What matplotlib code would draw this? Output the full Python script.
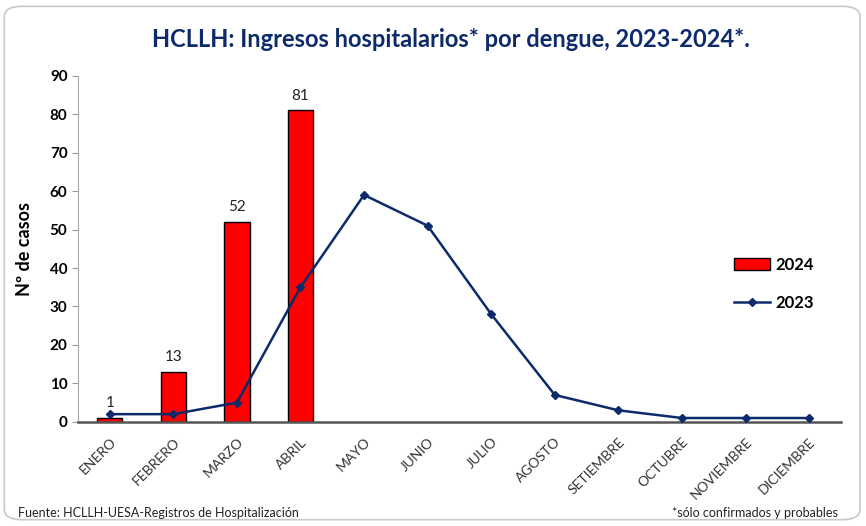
import numpy as np
import matplotlib.pyplot as plt
from matplotlib.patches import FancyBboxPatch

plt.rcParams['font.family'] = ['Lato', 'DejaVu Sans']

# datos
meses = ['ENERO', 'FEBRERO', 'MARZO', 'ABRIL', 'MAYO', 'JUNIO', 'JULIO',
         'AGOSTO', 'SETIEMBRE', 'OCTUBRE', 'NOVIEMBRE', 'DICIEMBRE']
casos_2024 = [1, 13, 52, 81]
casos_2023 = [2, 2, 5, 35, 59, 51, 28, 7, 3, 1, 1, 1]

navy = '#0d2a6b'

fig = plt.figure(figsize=(8.66, 5.26), dpi=100)
ax = fig.add_axes([0.090, 0.198, 0.881, 0.658])

# marco redondeado
fig.patches.append(FancyBboxPatch((0.005, 0.012), 0.988, 0.976,
                                  boxstyle='round,pad=0,rounding_size=0.02',
                                  transform=fig.transFigure, fill=False,
                                  edgecolor='#c8c8c8', linewidth=1.2))

x = np.arange(len(meses))
x24 = np.arange(len(casos_2024))
barras = ax.bar(x24, casos_2024, width=0.4, color='#ff0000', edgecolor='black',
                linewidth=1.0, label='2024', zorder=2)
for xi, v in zip(x24, casos_2024):
    ax.text(xi, v + 2, str(v), ha='center', va='bottom', fontsize=11, color='#222222')

linea, = ax.plot(x, casos_2023, color=navy, linewidth=1.8, marker='D', markersize=4.5,
                 label='2023', zorder=3)

ax.set_xlim(-0.5, len(meses) - 0.5)
ax.set_ylim(0, 90)
ax.set_yticks(range(0, 91, 10))
ax.tick_params(axis='y', labelsize=11, length=4, color='#999999')
for lbl in ax.get_yticklabels():
    lbl.set_fontweight('bold')
ax.set_xticks(x)
ax.set_xticklabels(meses, rotation=45, ha='right', rotation_mode='anchor',
                   fontsize=10, color='#333333')
ax.tick_params(axis='x', length=0, pad=10)
ax.set_ylabel('Nº de casos', fontsize=13, fontweight='bold', labelpad=12)

ax.spines['top'].set_visible(False)
ax.spines['right'].set_visible(False)
ax.spines['left'].set_color('#aaaaaa')
ax.spines['bottom'].set_color('#555555')
ax.spines['bottom'].set_linewidth(1.8)

leg = ax.legend([barras, linea], ['2024', '2023'], loc='upper left',
                bbox_to_anchor=(0.84, 0.52), frameon=False,
                fontsize=12, handlelength=2.2, labelspacing=1.3, handletextpad=0.3)
for t in leg.get_texts():
    t.set_fontweight('bold')

fig.text(0.521, 0.924, 'HCLLH: Ingresos hospitalarios* por dengue, 2023-2024*.',
         ha='center', va='center', fontsize=17, fontweight='bold', color=navy)
fig.text(0.021, 0.013, 'Fuente: HCLLH-UESA-Registros de Hospitalización',
         ha='left', va='bottom', fontsize=9, color='#222222')
fig.text(0.968, 0.013, '*sólo confirmados y probables',
         ha='right', va='bottom', fontsize=9, color='#222222')

fig.savefig('out.png', dpi=100)
